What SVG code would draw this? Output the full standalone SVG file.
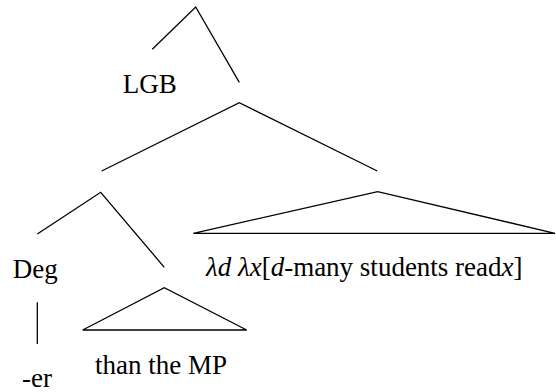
<svg xmlns="http://www.w3.org/2000/svg" width="556" height="392" viewBox="0 0 556 392">
<rect width="556" height="392" fill="#fff"/>
<g id="connectors" stroke="#000" stroke-width="1.3" fill="none">
<path d="M152.3,49.3 L195.7,7 L239.3,82.3"/>
<path d="M101.7,171 L239.3,102.7 L377.3,171"/>
<path d="M37.3,234 L100.7,192.3 L164.3,267.3"/>
<path d="M37.3,302.3 L37.3,344"/>
<path d="M193.3,233.3 L377.7,191.7 L555,233.3 Z"/>
<path d="M82.7,330 L164.3,287.7 L246.7,330 Z"/>
</g>
<g font-size="27" fill="#000" font-family="'Times New Roman', 'Liberation Serif', serif">
<g id="lgb"><text x="122.7" y="92.5" font-family="'Times New Roman', 'Liberation Serif', serif">LGB</text></g>
<g id="deg"><text x="12.7" y="278" font-family="'Times New Roman', 'Liberation Serif', serif">Deg</text></g>
<g id="er"><text x="22" y="387" font-family="'Times New Roman', 'Liberation Serif', serif">-er</text></g>
<g id="than"><text x="95" y="374" font-family="'Times New Roman', 'Liberation Serif', serif">than the MP</text></g>
<g id="lambda"><text x="206" y="276" font-family="'Times New Roman', 'Liberation Serif', serif"><tspan font-style="italic">&#955;d</tspan> <tspan font-style="italic">&#955;x</tspan>[<tspan font-style="italic">d</tspan>-many students read<tspan font-style="italic">x</tspan>]</text></g>
</g>
</svg>
